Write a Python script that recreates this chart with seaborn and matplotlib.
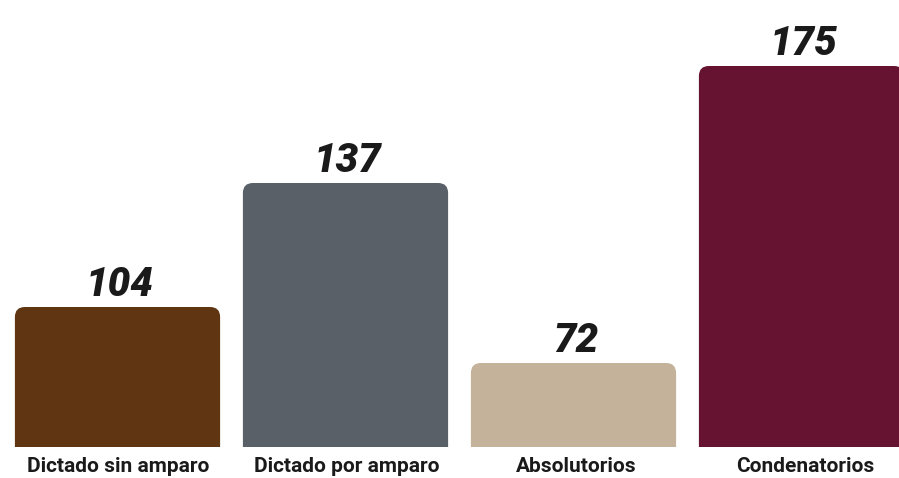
"""Bar chart of resolutions."""
import matplotlib
matplotlib.use('Agg')
import matplotlib.pyplot as plt
import pandas as pd
import seaborn as sns
from matplotlib.patches import FancyBboxPatch

sns.set_theme(style='white')
plt.rcParams['font.family'] = ['Roboto', 'DejaVu Sans']

FIG_SIZE = (8.99, 4.78)

categories = ['Dictado sin amparo', 'Dictado por amparo', 'Absolutorios',
              'Condenatorios']
value_labels = ['104', '137', '72', '175']
# bar heights as drawn in the picture (the original is not to scale)
bar_heights = [140, 264, 84, 381]
colors = ['#603612', '#596067', '#c4b39a', '#661332']

df = pd.DataFrame({'category': categories, 'height': bar_heights})

fig = plt.figure(figsize=FIG_SIZE, dpi=100)
ax = fig.add_axes([0, 31 / 478, 1, 447 / 478])
sns.barplot(data=df, x='category', y='height', hue='category',
            palette=colors, saturation=1, width=0.9, legend=False, ax=ax)
ax.set_ylim(0, 447)
ax.set_xlim(-117.5 / 228, (899 - 117.5) / 228)

# swap square bars for ones with rounded top corners
x_per_px = 1 / 228
for patch in list(ax.patches):
    x, w, h = patch.get_x(), patch.get_width(), patch.get_height()
    color = patch.get_facecolor()
    patch.set_visible(False)
    rounded = FancyBboxPatch(
        (x, -20), w, h + 20,
        boxstyle='round,pad=0,rounding_size={}'.format(10 * x_per_px),
        mutation_aspect=1 / x_per_px, facecolor=color, edgecolor='none',
        clip_on=True)
    ax.add_patch(rounded)

for i, (h, lab) in enumerate(zip(bar_heights, value_labels)):
    ax.text(i + 0.01, h + 11, lab, ha='center', va='baseline', fontsize=29,
            fontweight='heavy', style='italic', color='#1a1a1a')

for i, cat in enumerate(categories):
    fig.text((118 + 229 * i) / 899, 6 / 478, cat, ha='center',
             va='baseline', fontsize=15, fontweight='bold', color='#1a1a1a')

ax.set_axis_off()
fig.savefig('out.png', dpi=100)
